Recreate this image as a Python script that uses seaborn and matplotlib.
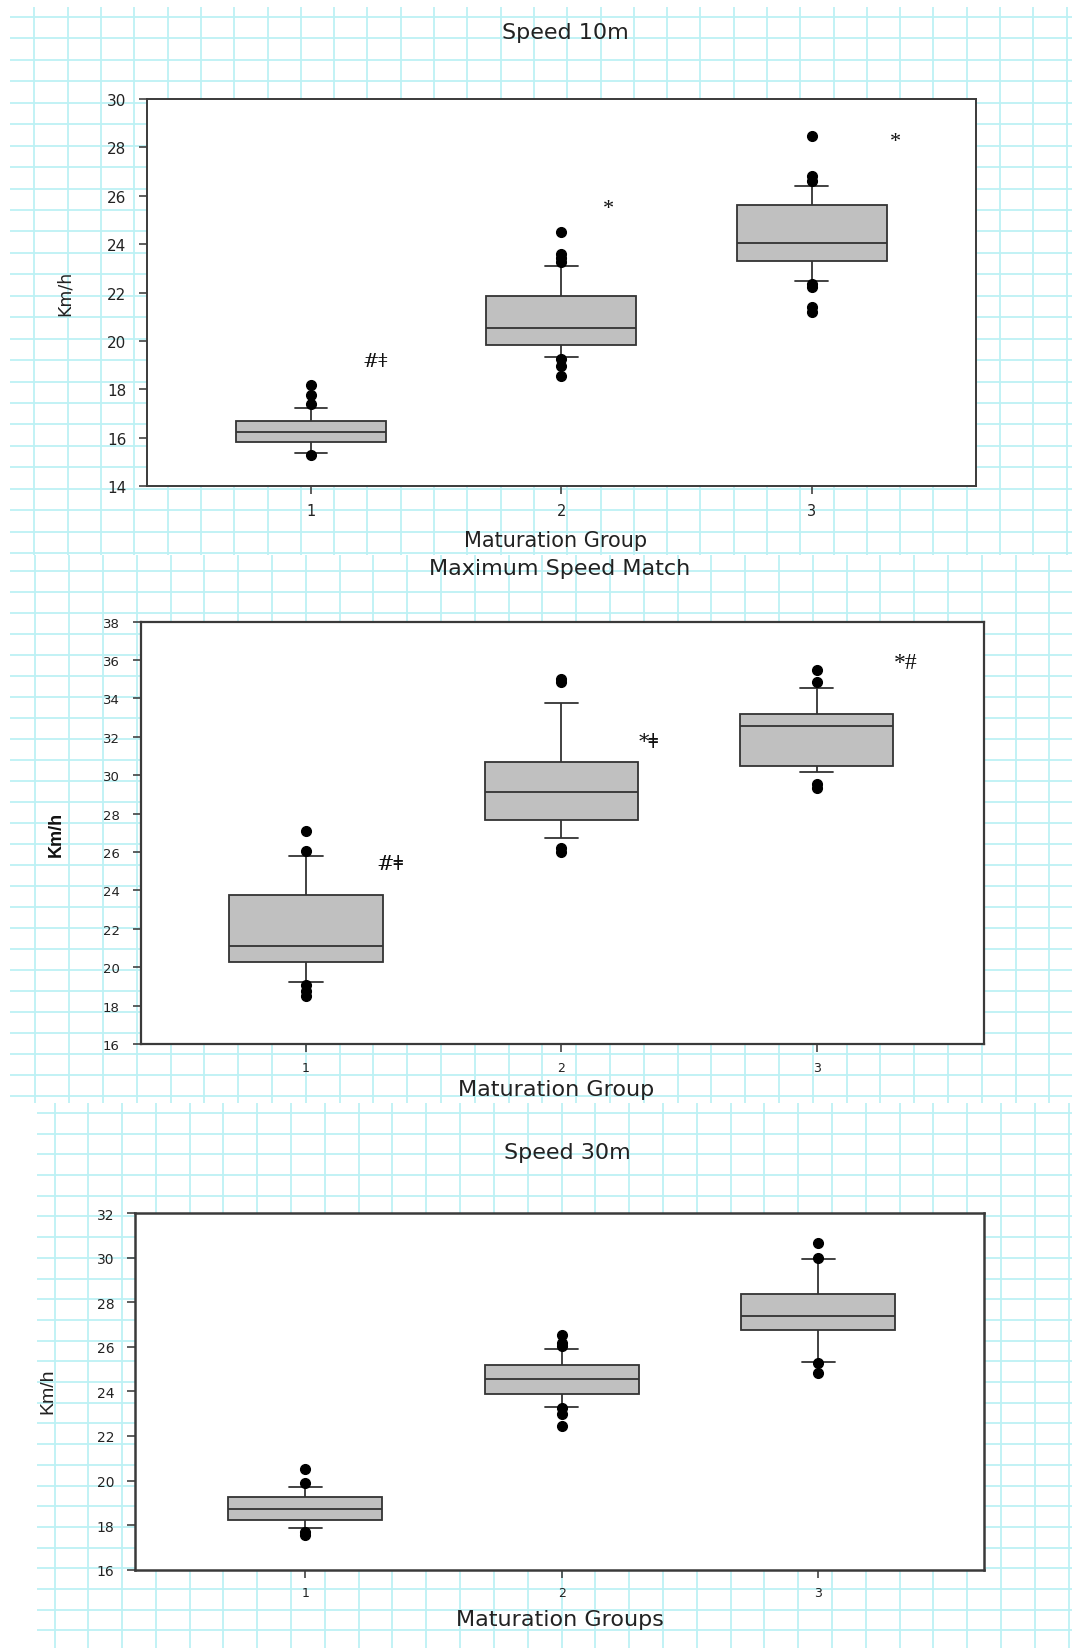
import numpy as np
import pandas as pd
import matplotlib
matplotlib.use("Agg")
import matplotlib.pyplot as plt
import seaborn as sns

# ---------------- data ----------------
groups = ["1", "2", "3"]

# Speed 10m
s10_q1 = [15.82, 19.84, 23.29]
s10_med = [16.23, 20.53, 24.04]
s10_q3 = [16.68, 21.85, 25.63]
s10_wlo = [15.36, 19.33, 22.47]
s10_whi = [17.22, 23.09, 26.39]
s10_out_lo = [[15.28], [19.25, 18.98, 18.57], [22.36, 22.22, 21.39, 21.21]]
s10_out_hi = [[17.40, 17.77, 18.20], [23.28, 23.45, 23.60, 24.49], [26.63, 26.83, 28.48]]
s10_marks = ["#ǂ", "*", "*"]
s10_mark_x = [0.255, 1.19, 2.334]
s10_mark_y = [18.96, 25.30, 28.05]

# Maximum Speed Match
msm_q1 = [20.25, 27.68, 30.50]
msm_med = [21.09, 29.11, 32.58]
msm_q3 = [23.78, 30.71, 33.19]
msm_wlo = [19.25, 26.71, 30.19]
msm_whi = [25.81, 33.75, 34.56]
msm_out_lo = [[19.07, 18.78, 18.52], [26.19, 26.02], [29.54, 29.32]]
msm_out_hi = [[26.04, 27.10], [34.84, 35.01], [34.84, 35.50]]
msm_marks = ["#ǂ", "*ǂ", "*#"]
msm_mark_x = [0.33, 1.342, 2.349]
msm_mark_y = [25.12, 31.47, 35.59]

# Speed 30m
s30_q1 = [18.24, 23.88, 26.75]
s30_med = [18.72, 24.55, 27.36]
s30_q3 = [19.27, 25.20, 28.37]
s30_wlo = [17.85, 23.30, 25.32]
s30_whi = [19.72, 25.90, 29.92]
s30_out_lo = [[17.70, 17.55], [23.25, 22.98, 22.46], [25.25, 24.82]]
s30_out_hi = [[19.89, 20.52], [26.05, 26.17, 26.54], [30.00, 30.65]]

W, H = 1075, 1649


def build_table(q1, med, q3, wlo, whi, out_lo, out_hi):
    """Table whose 10/25/50/75/90 percentiles equal the read summary values."""
    rows = []
    for g, a, m, b, lo, hi, ol, oh in zip(groups, q1, med, q3, wlo, whi, out_lo, out_hi):
        vals = list(ol) + [lo] * 10 + [a] * 20 + [m] * 20 + [b] * 20 + [hi] * 10 + list(oh)
        rows += [(g, v) for v in vals]
    return pd.DataFrame(rows, columns=["group", "value"])


sns.set_style("ticks")
plt.rcParams["font.family"] = ["DejaVu Sans"]

fig = plt.figure(figsize=(W / 100, H / 100), dpi=100)
fig.patch.set_facecolor("white")

# ---------------- graph-paper background ----------------
bg = fig.add_axes([0, 0, 1, 1], zorder=-10)
bg.set_xlim(0, W)
bg.set_ylim(H, 0)
bg.axis("off")
grid_col = "#bdf1f4"
regions = [
    # x0, x1, y0, y1, x-phase, x-step, y-phase, y-step
    (10, 1072, 8, 556, 1.1, 33.3, 17.9, 21.45),
    (10, 1072, 556, 1104, 1.6, 33.8, 5.0, 21.0),
    (37, 1072, 1104, 1649, 20.7, 33.8, 16.8, 20.7),
]
for x0, x1, y0, y1, xp, xs, yp, ys in regions:
    xv = np.arange(xp, x1, xs)
    xv = xv[xv >= x0]
    yv = np.arange(yp, y1, ys)
    yv = yv[yv >= y0]
    bg.vlines(xv, y0, y1, color=grid_col, lw=1.3)
    bg.hlines(yv, x0, x1, color=grid_col, lw=1.3)


def fpos(l, r, t, b):
    return [l / W, 1 - b / H, (r - l) / W, (b - t) / H]


def draw(rect, df, xlim, ylim, ystep, ytick_size, xtick_size, spine_lw):
    ax = fig.add_axes(rect)
    ax.set_facecolor("white")
    kw = dict(data=df, x="group", y="value", order=groups, ax=ax, width=0.6,
              whis=(10, 90), color="#c0c0c0", saturation=1, linecolor="#333333",
              linewidth=1.3, fliersize=7)
    try:
        sns.boxplot(capwidths=0.13, **kw)
    except TypeError:
        ax.cla()
        sns.boxplot(**kw)
    for ln in ax.lines:
        if ln.get_marker() not in (None, "None", "", " "):
            ln.set_marker("o")
            ln.set_markerfacecolor("black")
            ln.set_markeredgecolor("black")
            ln.set_markersize(7)
    ax.set_xlim(*xlim)
    ax.set_ylim(*ylim)
    ax.set_yticks(np.arange(ylim[0], ylim[1] + 0.1, ystep))
    ax.set_xlabel("")
    ax.set_ylabel("")
    for s in ax.spines.values():
        s.set_visible(True)
        s.set_color("#3a3a3a")
        s.set_linewidth(spine_lw)
    ax.tick_params(axis="both", direction="out", length=6, width=1.1,
                   color="#333333", labelcolor="#222222", left=True, bottom=True)
    ax.tick_params(axis="y", pad=9, labelsize=ytick_size)
    ax.tick_params(axis="x", pad=6, labelsize=xtick_size)
    return ax


def mark_family(m):
    # the click letter ǂ is drawn tall in DejaVu Serif, as in the reference
    if "ǂ" in m:
        return ["DejaVu Serif", "Liberation Serif"]
    return ["Liberation Serif", "DejaVu Serif"]


# ---------------- panel 1: Speed 10m ----------------
df1 = build_table(s10_q1, s10_med, s10_q3, s10_wlo, s10_whi, s10_out_lo, s10_out_hi)
ax1 = draw(fpos(147.3, 975.7, 100, 487.3), df1, (-0.653, 2.655), (14, 30), 2, 11, 10.5, 1.4)
for m, x, y in zip(s10_marks, s10_mark_x, s10_mark_y):
    ax1.text(x, y, m, ha="center", va="baseline", fontsize=16 if "ǂ" not in m else 14,
             family=mark_family(m), color="#111111")
fig.text(565 / W, 1 - 33 / H, "Speed 10m", ha="center", va="center", fontsize=16, color="#222222")
fig.text(556 / W, 1 - 541 / H, "Maturation Group", ha="center", va="center", fontsize=15, color="#222222")
fig.text(65 / W, 1 - 293 / H, "Km/h", ha="center", va="center", rotation=90, fontsize=12.5, color="#222222")

# ---------------- panel 2: Maximum Speed Match ----------------
df2 = build_table(msm_q1, msm_med, msm_q3, msm_wlo, msm_whi, msm_out_lo, msm_out_hi)
ax2 = draw(fpos(140.7, 984, 622.7, 1045), df2, (-0.647, 2.655), (16, 38), 2, 9.5, 9, 1.6)
for m, x, y in zip(msm_marks, msm_mark_x, msm_mark_y):
    ax2.text(x, y, m, ha="center", va="baseline", fontsize=17 if "ǂ" not in m else 15,
             family=mark_family(m), color="#111111")
fig.text(560 / W, 1 - 569 / H, "Maximum Speed Match", ha="center", va="center", fontsize=16, color="#222222")
fig.text(556 / W, 1 - 1090 / H, "Maturation Group", ha="center", va="center", fontsize=16, color="#222222")
fig.text(56 / W, 1 - 834 / H, "Km/h", ha="center", va="center", rotation=90, fontsize=13,
         fontweight="bold", family=["Liberation Sans Narrow", "Liberation Sans", "DejaVu Sans"],
         color="#111111")

# ---------------- panel 3: Speed 30m ----------------
df3 = build_table(s30_q1, s30_med, s30_q3, s30_wlo, s30_whi, s30_out_lo, s30_out_hi)
ax3 = draw(fpos(135, 984, 1214, 1570.7), df3, (-0.664, 2.646), (16, 32), 2, 10, 9, 1.8)
fig.text(567 / W, 1 - 1153 / H, "Speed 30m", ha="center", va="center", fontsize=16, color="#222222")
fig.text(560 / W, 1 - 1620 / H, "Maturation Groups", ha="center", va="center", fontsize=16, color="#222222")
fig.text(48 / W, 1 - 1391 / H, "Km/h", ha="center", va="center", rotation=90, fontsize=14,
         family=["Liberation Sans", "DejaVu Sans"], color="#222222")

fig.savefig("out.png", dpi=100, facecolor="white")
